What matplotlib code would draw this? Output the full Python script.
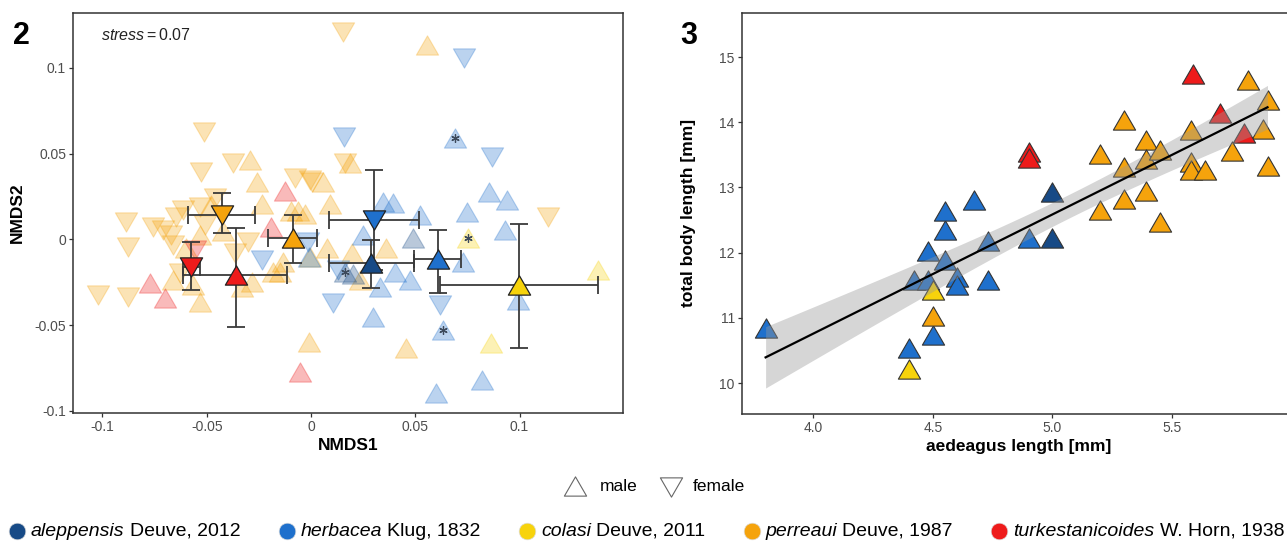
import numpy as np
import matplotlib.pyplot as plt
from matplotlib.path import Path

plt.rcParams['font.family'] = ['Liberation Sans', 'DejaVu Sans']
plt.rcParams['mathtext.fontset'] = 'custom'
plt.rcParams['mathtext.it'] = 'Liberation Sans:italic'
plt.rcParams['mathtext.rm'] = 'Liberation Sans'

# species, authorities, colours
species = ["aleppensis", "herbacea", "colasi", "perreaui", "turkestanicoides"]
authors = ["Deuve, 2012", "Klug, 1832", "Deuve, 2011", "Deuve, 1987", "W. Horn, 1938"]
colors = {"aleppensis": "#174a86", "herbacea": "#1f70cc", "colasi": "#f7d30c",
          "perreaui": "#f5a30c", "turkestanicoides": "#ee1b1b"}

# ---- panel 2: NMDS individual scores ----
perreaui_m_x = [-0.0294, -0.0258, -0.0234, -0.0534, -0.0598, -0.0662, -0.0285, -0.0566, -0.0534, 0.0187,
                0.0059, 0.0090, -0.0095, -0.0060, -0.0030, 0.0555, 0.0078, 0.0198, 0.0360, 0.0235,
                -0.0008, 0.0456, -0.0133, -0.0005, -0.0180, -0.0150, -0.0480, -0.0420, -0.0330]
perreaui_m_y = [0.0463, 0.0336, 0.0206, 0.0025, -0.0053, -0.0237, -0.0247, -0.0267, -0.0364, 0.0443,
                0.0336, 0.0205, 0.0165, 0.0165, 0.0145, 0.1134, -0.0053, -0.0082, -0.0053, -0.0237,
                -0.0597, -0.0636, -0.0131, -0.0101, -0.0189, -0.0189, 0.0200, 0.0050, -0.0280]
perreaui_f_x = [-0.0513, -0.0374, -0.0526, -0.0077, 0.0005, -0.0462, -0.0534, -0.0614, -0.0646, -0.0886,
                -0.0758, -0.0710, -0.0670, -0.0510, -0.0662, -0.0878, -0.0300, -0.0630, -0.1022, -0.0878,
                0.0152, 0.0163, -0.0005, 0.1138, -0.0365]
perreaui_f_y = [0.0625, 0.0445, 0.0394, 0.0358, 0.0334, 0.0239, 0.0190, 0.0171, 0.0132, 0.0103,
                0.0074, 0.0054, 0.0025, 0.0083, -0.0033, -0.0043, -0.0014, -0.0198, -0.0325, -0.0335,
                0.1211, 0.0443, 0.0346, 0.0132, -0.0082]
colasi_m_x = [0.1377, 0.0751, 0.0862]
colasi_m_y = [-0.0180, 0.0009, -0.0607]
turk_m_x = [-0.0125, -0.0193, -0.0774, -0.0702, -0.0053]
turk_m_y = [0.0280, 0.0074, -0.0257, -0.0344, -0.0772]
turk_f_x = [-0.0558]
turk_f_y = [-0.0062]
herb_m_x = [0.0690, 0.0347, 0.0395, 0.0523, 0.0747, 0.0855, 0.0939, 0.0930, -0.0008, 0.0331,
            0.0403, 0.0475, 0.0728, 0.0994, 0.0299, 0.0632, 0.0822, 0.0600, 0.0248]
herb_m_y = [0.0589, 0.0219, 0.0210, 0.0142, 0.0161, 0.0278, 0.0229, 0.0054, -0.0101, -0.0277,
            -0.0189, -0.0237, -0.0131, -0.0354, -0.0452, -0.0529, -0.0821, -0.0899, 0.0025]
herb_f_x = [0.0735, 0.0160, 0.0867, 0.0131, 0.0104, 0.0619, -0.0237, -0.0013]
herb_f_y = [0.1056, 0.0599, 0.0482, -0.0179, -0.0373, -0.0383, -0.0121, -0.0014]
alep_m_x = [0.0491, 0.0163, 0.0200]
alep_m_y = [0.0006, -0.0189, -0.0200]

# specimens marked with an asterisk
star_x = [0.0690, 0.0751, 0.0163, 0.0632]
star_y = [0.0589, 0.0009, -0.0189, -0.0529]

# group means with error bars
mean_sp = ["perreaui", "perreaui", "turkestanicoides", "turkestanicoides",
           "aleppensis", "herbacea", "herbacea", "colasi"]
mean_sex = ["m", "f", "m", "f", "m", "f", "m", "m"]
mean_x = [-0.0085, -0.0427, -0.0361, -0.0574, 0.0286, 0.0302, 0.0608, 0.0998]
mean_y = [0.0006, 0.0142, -0.0208, -0.0160, -0.0136, 0.0113, -0.0117, -0.0267]
x_lo = [-0.0205, -0.0590, -0.0613, -0.0614, 0.0088, 0.0088, 0.0496, 0.0619]
x_hi = [0.0030, -0.0270, -0.0114, -0.0534, 0.0494, 0.0520, 0.0720, 0.1375]
y_lo = [-0.0140, 0.0037, -0.0510, -0.0296, -0.0286, -0.0178, -0.0311, -0.0632]
y_hi = [0.0142, 0.0270, 0.0064, -0.0014, -0.0004, 0.0404, 0.0054, 0.0087]

# ---- panel 3: aedeagus length vs body length ----
herb_aed = [3.80, 4.40, 4.50, 4.42, 4.48, 4.60, 4.60, 4.73, 4.48, 4.55, 4.55, 4.55, 4.67, 4.73, 4.90]
herb_body = [10.84, 10.53, 10.74, 11.58, 11.58, 11.62, 11.50, 11.58, 12.03, 11.89, 12.34, 12.64, 12.80, 12.18, 12.23]
alep_aed = [5.00, 5.00]
alep_body = [12.23, 12.93]
colasi_aed = [4.40, 4.50]
colasi_body = [10.22, 11.42]
perr_aed = [4.50, 5.20, 5.20, 5.30, 5.30, 5.30, 5.39, 5.39, 5.39, 5.45, 5.45, 5.58, 5.58, 5.58, 5.64,
            5.75, 5.82, 5.90, 5.88, 5.90]
perr_body = [11.03, 13.52, 12.65, 14.03, 13.32, 12.83, 13.73, 13.43, 12.95, 13.58, 12.47, 13.88, 13.39,
             13.26, 13.26, 13.56, 14.65, 14.34, 13.89, 13.33]
turk_aed = [4.90, 4.90, 5.59, 5.70, 5.80]
turk_body = [13.55, 13.45, 14.74, 14.14, 13.83]

W, H = 1287, 552
fig = plt.figure(figsize=(W / 100, H / 100), dpi=100)

tri_up = Path([(0, 0.433), (-0.5, -0.433), (0.5, -0.433), (0, 0.433)], closed=True)
tri_dn = Path([(0, -0.433), (-0.5, 0.433), (0.5, 0.433), (0, -0.433)], closed=True)
MS = 16
frame_col = "#333333"
tick_col = "#4d4d4d"


def style_axes(ax):
    for s in ax.spines.values():
        s.set_color(frame_col)
        s.set_linewidth(1.1)
    ax.tick_params(colors=frame_col, labelcolor=tick_col, labelsize=10, length=3, width=0.9, pad=2)


# ---------------- panel 2 ----------------
ax1 = fig.add_axes([73 / W, 1 - 413 / H, 550 / W, 400 / H])
bg = [("perreaui", perreaui_m_x, perreaui_m_y, tri_up), ("perreaui", perreaui_f_x, perreaui_f_y, tri_dn),
      ("colasi", colasi_m_x, colasi_m_y, tri_up),
      ("turkestanicoides", turk_m_x, turk_m_y, tri_up), ("turkestanicoides", turk_f_x, turk_f_y, tri_dn),
      ("herbacea", herb_m_x, herb_m_y, tri_up), ("herbacea", herb_f_x, herb_f_y, tri_dn),
      ("aleppensis", alep_m_x, alep_m_y, tri_up)]
for sp, xs, ys, mk in bg:
    ax1.plot(xs, ys, linestyle="none", marker=mk, markersize=MS, markerfacecolor=colors[sp],
             markeredgecolor=colors[sp], markeredgewidth=0.8, alpha=0.3)
ax1.plot(star_x, star_y, linestyle="none", marker=(6, 2, 0), markersize=6,
         markeredgecolor="#3d4a5c", markeredgewidth=0.9)

mx = np.array(mean_x)
my = np.array(mean_y)
xerr = [mx - np.array(x_lo), np.array(x_hi) - mx]
yerr = [my - np.array(y_lo), np.array(y_hi) - my]
ax1.errorbar(mx, my, xerr=xerr, yerr=yerr, fmt="none", ecolor="#3a3a3a", elinewidth=1.3,
             capsize=6.5, capthick=1.3, zorder=3)
for i in range(len(mean_x)):
    ax1.plot(mean_x[i], mean_y[i], linestyle="none", marker=tri_up if mean_sex[i] == "m" else tri_dn,
             markersize=MS, markerfacecolor=colors[mean_sp[i]], markeredgecolor="#222222",
             markeredgewidth=0.9, zorder=4)

ax1.set_xlim(-0.1141, 0.1496)
ax1.set_ylim(-0.1013, 0.132)
ax1.set_xticks([-0.1, -0.05, 0, 0.05, 0.1])
ax1.set_xticklabels(["-0.1", "-0.05", "0", "0.05", "0.1"])
ax1.set_yticks([-0.1, -0.05, 0, 0.05, 0.1])
ax1.set_yticklabels(["-0.1", "-0.05", "0", "0.05", "0.1"])
style_axes(ax1)
ax1.text(101 / W, 1 - 35 / H, r"$\mathit{stress} = 0.07$", transform=fig.transFigure,
         fontsize=11.5, va="center", ha="left", color="#222222")

# ---------------- panel 3 ----------------
ax2 = fig.add_axes([741.7 / W, 1 - 414 / H, (1300 - 741.7) / W, 401 / H])
groups = [("herbacea", herb_aed, herb_body), ("aleppensis", alep_aed, alep_body),
          ("colasi", colasi_aed, colasi_body), ("perreaui", perr_aed, perr_body),
          ("turkestanicoides", turk_aed, turk_body)]
for sp, xs, ys in groups:
    ax2.plot(xs, ys, linestyle="none", marker=tri_up, markersize=MS, markerfacecolor=colors[sp],
             markeredgecolor="#333333", markeredgewidth=0.8, zorder=2)

xa = np.concatenate([g[1] for g in groups])
ya = np.concatenate([g[2] for g in groups])
slope, icpt = np.polyfit(xa, ya, 1)
n = len(xa)
resid = ya - (slope * xa + icpt)
s = np.sqrt(np.sum(resid ** 2) / (n - 2))
xg = np.linspace(xa.min(), xa.max(), 100)
se = s * np.sqrt(1 / n + (xg - xa.mean()) ** 2 / np.sum((xa - xa.mean()) ** 2))
fit = slope * xg + icpt
ax2.fill_between(xg, fit - 2.02 * se, fit + 2.02 * se, color="#999999", alpha=0.4, linewidth=0, zorder=3)
ax2.plot(xg, fit, color="black", linewidth=1.6, zorder=4)

ax2.set_xlim(3.70, 3.70 + (1300 - 741.7) / 239)
ax2.set_ylim(9.525, 15.675)
ax2.set_xticks([4.0, 4.5, 5.0, 5.5])
ax2.set_xticklabels(["4.0", "4.5", "5.0", "5.5"])
ax2.set_yticks([10, 11, 12, 13, 14, 15])
style_axes(ax2)

# axis titles and panel numbers
fig.text(348 / W, 1 - 445 / H, "NMDS1", fontsize=12.5, fontweight="bold", ha="center", va="center")
fig.text(17 / W, 1 - 213 / H, "NMDS2", fontsize=12.5, fontweight="bold", ha="center", va="center",
         rotation=90)
fig.text(1019 / W, 1 - 447 / H, "aedeagus length [mm]", fontsize=12.5, fontweight="bold",
         ha="center", va="center")
fig.text(689 / W, 1 - 213 / H, "total body length [mm]", fontsize=12.5, fontweight="bold",
         ha="center", va="center", rotation=90)
fig.text(21 / W, 1 - 36 / H, "2", fontsize=22, fontweight="bold", ha="center", va="center")
fig.text(689 / W, 1 - 36 / H, "3", fontsize=22, fontweight="bold", ha="center", va="center")

# ---------------- legends ----------------
lg = fig.add_axes([0, 0, 1, 1], zorder=-1)
lg.set_xlim(0, W)
lg.set_ylim(H, 0)
lg.axis("off")

lg.plot([575], [486], linestyle="none", marker=tri_up, markersize=16, markerfacecolor="white",
        markeredgecolor="#666666", markeredgewidth=0.8)
lg.text(600, 491, "male", fontsize=12.5, va="baseline", ha="left")
lg.plot([671], [487], linestyle="none", marker=tri_dn, markersize=16, markerfacecolor="white",
        markeredgecolor="#666666", markeredgewidth=0.8)
lg.text(693, 491, "female", fontsize=12.5, va="baseline", ha="left")

# species row: spread across the full width with equal gaps
fig.canvas.draw()
rend = fig.canvas.get_renderer()
LFS = 14
parts = []
widths = []
for i, sp in enumerate(species):
    t1 = lg.text(0, 536, sp, fontsize=LFS, fontstyle="italic", va="baseline", ha="left")
    t2 = lg.text(0, 536, authors[i], fontsize=LFS, va="baseline", ha="left")
    w1 = t1.get_window_extent(rend).width
    w2 = t2.get_window_extent(rend).width
    parts.append((t1, t2, w1))
    widths.append(22 + w1 + 5 + w2)
left, right = 9, 1284
gap = (right - left - sum(widths)) / (len(species) - 1)
x0 = left
for i, sp in enumerate(species):
    t1, t2, w1 = parts[i]
    lg.plot([x0 + 8], [531], linestyle="none", marker="o", markersize=12,
            markerfacecolor=colors[sp], markeredgecolor="#dddddd", markeredgewidth=0.5)
    t1.set_x(x0 + 22)
    t2.set_x(x0 + 22 + w1 + 5)
    x0 += widths[i] + gap

fig.savefig("out.png", dpi=100)
